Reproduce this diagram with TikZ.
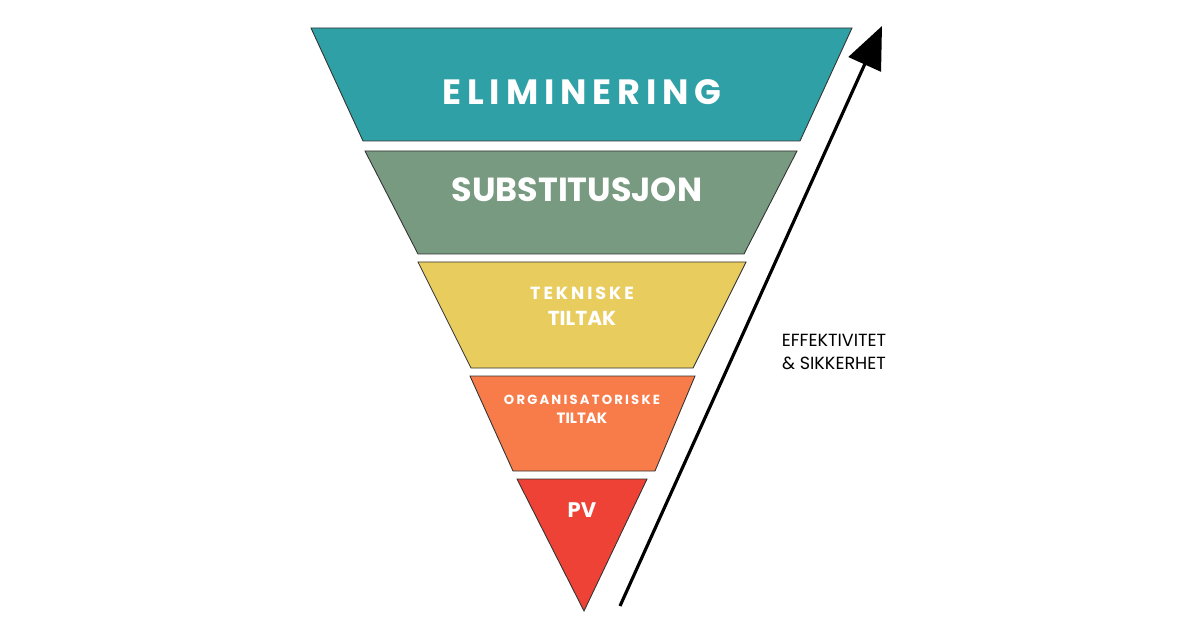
\documentclass[tikz,border=0pt]{standalone}
\usepackage{fontspec}
\setmainfont{Poppins}
\usetikzlibrary{arrows.meta}
\definecolor{elim}{HTML}{2FA0A6}
\definecolor{subst}{HTML}{789A80}
\definecolor{tekn}{HTML}{E8CC5E}
\definecolor{org}{HTML}{F87B4A}
\definecolor{pv}{HTML}{EE4236}
\begin{document}
\begin{tikzpicture}[x=0.02cm,y=-0.02cm,
	layer/.style={draw=black!80,line width=0.5pt},
	lab/.style={text=white,font=\bfseries,align=center}]
	% frame
	\useasboundingbox (0,0) rectangle (1200,628);
	% layers of the funnel
	\filldraw[layer,fill=elim] (311,28) -- (852,28) -- (800,141) -- (363,141) -- cycle;
	\filldraw[layer,fill=subst] (365,151) -- (797,151) -- (744,254) -- (418,254) -- cycle;
	\filldraw[layer,fill=tekn] (418,262) -- (746,262) -- (693,368) -- (471,368) -- cycle;
	\filldraw[layer,fill=org] (470,376) -- (695,376) -- (655,471) -- (513,471) -- cycle;
	\filldraw[layer,fill=pv] (517,479) -- (647,479) -- (584,611) -- cycle;
	% labels
	\node[lab,font=\bfseries\fontsize{20}{22}\selectfont] (elimtxt) at (582,92) {E\,L\,I\,M\,I\,N\,E\,R\,I\,N\,G};
	\node[lab,font=\bfseries\fontsize{19}{22}\selectfont] (substtxt) at (577,190) {SUBSTITUSJON};
	\node[lab,font=\bfseries\fontsize{10}{14}\selectfont] (tekntxt) at (582,306) {T\,E\,K\,N\,I\,S\,K\,E\\[1pt]{\fontsize{11.5}{14}\selectfont TILTAK}};
	\node[lab,font=\bfseries\fontsize{7.5}{11}\selectfont] (orgtxt) at (582,409) {O\,R\,G\,A\,N\,I\,S\,A\,T\,O\,R\,I\,S\,K\,E\\{\fontsize{8.5}{11}\selectfont TILTAK}};
	\node[lab,font=\bfseries\fontsize{12}{14}\selectfont] (pvtxt) at (582,510) {PV};
	% arrow
	\coordinate (arrlo) at (620,606);
	\coordinate (arrhi) at (882,26);
	\draw[line width=1.8pt,-{Triangle[length=24pt,width=20pt]}] (arrlo) -- (arrhi);
	\node[align=center,font=\fontsize{10}{13}\selectfont] (effekt) at (834,352) {EFFEKTIVITET\\\& SIKKERHET};
\end{tikzpicture}
\end{document}
